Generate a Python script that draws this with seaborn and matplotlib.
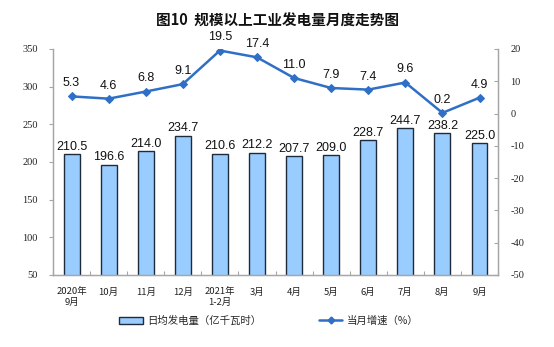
import numpy as np
import pandas as pd
import matplotlib
matplotlib.use("Agg")
import matplotlib.pyplot as plt
from matplotlib.patches import Patch
from matplotlib.lines import Line2D
import seaborn as sns

months = ["2020年\n9月", "10月", "11月", "12月", "2021年\n1-2月", "3月",
          "4月", "5月", "6月", "7月", "8月", "9月"]
daily_output = [210.5, 196.6, 214.0, 234.7, 210.6, 212.2, 207.7, 209.0,
                228.7, 244.7, 238.2, 225.0]
growth = [5.3, 4.6, 6.8, 9.1, 19.5, 17.4, 11.0, 7.9, 7.4, 9.6, 0.2, 4.9]

left_ticks = [50, 100, 150, 200, 250, 300, 350]
right_ticks = [-50, -40, -30, -20, -10, 0, 10, 20]

sns.set_theme(style="white")
plt.rcParams["font.family"] = ["Noto Sans CJK SC", "DejaVu Sans"]

bar_color = "#99CCFF"
line_color = "#2F6FC5"
spine_color = "#A6A6A6"
num_font = "Liberation Serif"
lbl_font = "Liberation Sans"

df = pd.DataFrame({"month": months, "output": daily_output,
                   "pos": np.arange(len(months)), "growth": growth})

fig = plt.figure(figsize=(5.54, 3.47), dpi=100)
ax = fig.add_axes([0.0957, 0.2075, 0.8033, 0.6515])

sns.barplot(data=df, x="month", y="output", color=bar_color, width=0.43,
            edgecolor="#1F2A3A", linewidth=1.0, saturation=1, ax=ax)
ax.set_ylim(50, 350)
ax.set_xlim(-0.5, len(months) - 0.5)
ax.set_yticks(left_ticks)
ax.set_yticklabels([str(t) for t in left_ticks], family=num_font, fontsize=7.5,
                   color="#222222")
ax.set_xlabel("")
ax.set_ylabel("")
ax.set_xticks(np.arange(len(months)))
ax.set_xticklabels(months, fontsize=6.8, linespacing=1.25, color="#222222")
ax.set_xticks(np.arange(len(months) + 1) - 0.5, minor=True)
ax.tick_params(axis="x", which="major", length=0, pad=9)
ax.tick_params(axis="x", which="minor", length=3, direction="in",
               color=spine_color, width=0.8, bottom=True)
ax.tick_params(axis="y", length=3, direction="out", color=spine_color,
               width=0.8, left=True, pad=8)

for i, v in enumerate(daily_output):
    ax.text(i, v + 2, f"{v:.1f}", ha="center", va="bottom",
            family=lbl_font, fontsize=9, color="#111111")

ax2 = ax.twinx()
sns.lineplot(data=df, x="pos", y="growth", color=line_color, linewidth=1.8,
             marker="D", markersize=4.5, markeredgecolor=line_color, ax=ax2)
ax2.set_ylim(-50, 20)
ax2.set_yticks(right_ticks)
ax2.set_yticklabels([str(t) for t in right_ticks], family=num_font, fontsize=7.5,
                    color="#222222")
ax2.set_ylabel("")
ax2.set_xlabel("")
ax2.tick_params(axis="y", length=3, direction="in", color=spine_color,
                width=0.8, right=True, pad=9)
ax2.set_xlim(-0.5, len(months) - 0.5)

for i, g in enumerate(growth):
    ax2.text(i, g + 2.2, f"{g:.1f}", ha="center", va="bottom",
             family=lbl_font, fontsize=9, color="#111111")

for a in (ax, ax2):
    a.spines["top"].set_visible(False)
    for s in ("left", "right", "bottom"):
        a.spines[s].set_color(spine_color)
        a.spines[s].set_linewidth(0.9)

fig.text(0.5, 0.94, "图10  规模以上工业发电量月度走势图", ha="center",
         va="center", fontsize=10.5, fontweight="bold", color="#111111")

handles = [Patch(facecolor=bar_color, edgecolor="#1F2A3A", linewidth=1.0),
           Line2D([0], [0], color=line_color, linewidth=1.8, marker="D",
                  markersize=3.5)]
fig.legend(handles, ["日均发电量（亿千瓦时）", "当月增速（%）"],
           loc="center", bbox_to_anchor=(0.485, 0.075), ncol=2, frameon=False,
           fontsize=7.5, columnspacing=5.5, handlelength=2.3,
           handleheight=0.7, handletextpad=0.4)

fig.savefig("out.png", dpi=100)
